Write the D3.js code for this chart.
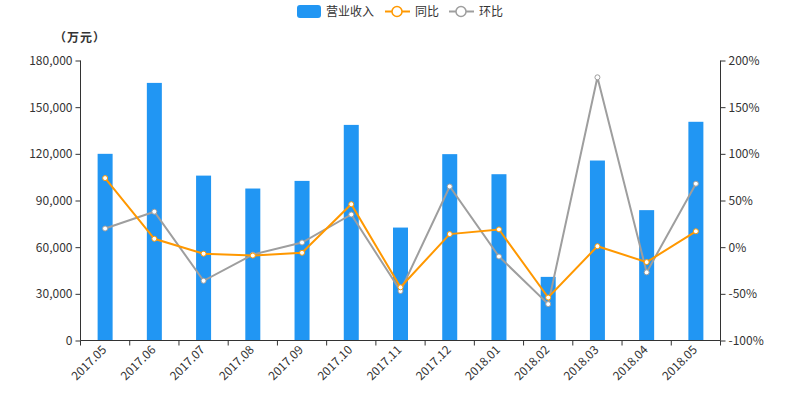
<!DOCTYPE html>
<html><head><meta charset="utf-8">
<script src="https://cdn.jsdelivr.net/npm/d3@7"></script>
<style>
body{margin:0;background:#fff;}
text{font-family:"Noto Sans CJK SC","Noto Sans",sans-serif;}
</style></head>
<body><svg id="c" width="800" height="400"></svg>
<script>
const categories = ["2017.05","2017.06","2017.07","2017.08","2017.09","2017.10","2017.11","2017.12","2018.01","2018.02","2018.03","2018.04","2018.05"];
const revenue = [120000,165600,106000,97700,102600,138600,72600,119800,106900,40900,115700,83800,140600];
const yoy = [74,9,-7,-9,-6,46,-43,14,19,-54,1,-16,17];
const mom = [20,38,-36,-8,5,35,-47,65,-10,-61,182,-27,68];
const leftTicks = [0,30000,60000,90000,120000,150000,180000];
const rightTicks = [-100,-50,0,50,100,150,200];
const seriesNames = ["营业收入","同比","环比"];

const svg = d3.select("#c");
const L=80.5, R=720.5, T=60.5, B=340.5;
const x = d3.scaleBand().domain(categories).range([L,R]);
const yL = d3.scaleLinear().domain([0,180000]).range([B,T]);
const yR = d3.scaleLinear().domain([-100,200]).range([B,T]);
const blue="#2196F3", orange="#FF9800", gray="#9E9E9E", axisC="#333";

// bars
const bw=15;
svg.append("g").selectAll("rect").data(revenue).join("rect")
  .attr("x",(d,i)=>x(categories[i])+x.bandwidth()/2-bw/2)
  .attr("y",d=>yL(d)).attr("width",bw).attr("height",d=>B-yL(d))
  .attr("fill",blue);

// axes
const fmt = d3.format(",");
const gl = svg.append("g").attr("transform",`translate(${L},0)`)
  .call(d3.axisLeft(yL).tickValues(leftTicks).tickFormat(fmt).tickSize(5).tickPadding(3));
const gr = svg.append("g").attr("transform",`translate(${R},0)`)
  .call(d3.axisRight(yR).tickValues(rightTicks).tickFormat(d=>d+"%").tickSize(5).tickPadding(3));
const gx = svg.append("g").attr("transform",`translate(0,${B})`)
  .call(d3.axisBottom(x).tickSize(0).tickFormat(""));
// category boundary ticks
const bounds = categories.map(c=>x(c)).concat([R]);
gx.selectAll("line.bt").data(bounds).join("line").attr("class","bt")
  .attr("x1",d=>d).attr("x2",d=>d).attr("y1",0).attr("y2",5).attr("stroke",axisC);
gx.selectAll("text.lab").data(categories).join("text").attr("class","lab")
  .attr("transform",d=>`translate(${x(d)+x.bandwidth()/2+2},${10}) rotate(-45)`)
  .attr("text-anchor","end").attr("fill",axisC).attr("font-size",12)
  .text(d=>d);
[gl,gr,gx].forEach(g=>{
  g.selectAll(".domain").attr("stroke",axisC);
  g.selectAll(".tick line").attr("stroke",axisC);
  g.selectAll(".tick text").attr("fill",axisC).attr("font-size",12);
});
gl.select(".domain").attr("d",`M0,${B}V${T}`);
gr.select(".domain").attr("d",`M0,${B}V${T}`);
gx.select(".domain").attr("d",`M${L},0H${R}`);

// unit label
svg.append("text").attr("x",80).attr("y",42).attr("text-anchor","middle")
  .attr("font-size",12).attr("font-weight","bold").attr("fill",axisC)
  .attr("letter-spacing",1).text("（万元）");

// lines
function drawLine(vals,color){
  const line = d3.line().x((d,i)=>x(categories[i])+x.bandwidth()/2).y(d=>yR(d));
  svg.append("path").datum(vals).attr("d",line).attr("fill","none")
    .attr("stroke",color).attr("stroke-width",2);
  svg.append("g").selectAll("circle").data(vals).join("circle")
    .attr("cx",(d,i)=>x(categories[i])+x.bandwidth()/2).attr("cy",d=>yR(d))
    .attr("r",2.5).attr("fill","#fff").attr("stroke",color).attr("stroke-width",1);
}
drawLine(mom,gray);
drawLine(yoy,orange);

// legend
const lg = svg.append("g");
lg.append("rect").attr("x",297).attr("y",5).attr("width",24).attr("height",13).attr("rx",3).attr("fill",blue);
lg.append("text").attr("x",326).attr("y",16).attr("font-size",12).attr("fill",axisC).text(seriesNames[0]);
[[385,orange,seriesNames[1],415],[449,gray,seriesNames[2],479]].forEach(([lx,c,t,tx])=>{
  lg.append("line").attr("x1",lx).attr("x2",lx+25).attr("y1",11.5).attr("y2",11.5).attr("stroke",c).attr("stroke-width",2);
  lg.append("circle").attr("cx",lx+12).attr("cy",11.5).attr("r",5).attr("fill","#fff").attr("stroke",c).attr("stroke-width",1.5);
  lg.append("text").attr("x",tx).attr("y",16).attr("font-size",12).attr("fill",axisC).text(t);
});
</script></body></html>
